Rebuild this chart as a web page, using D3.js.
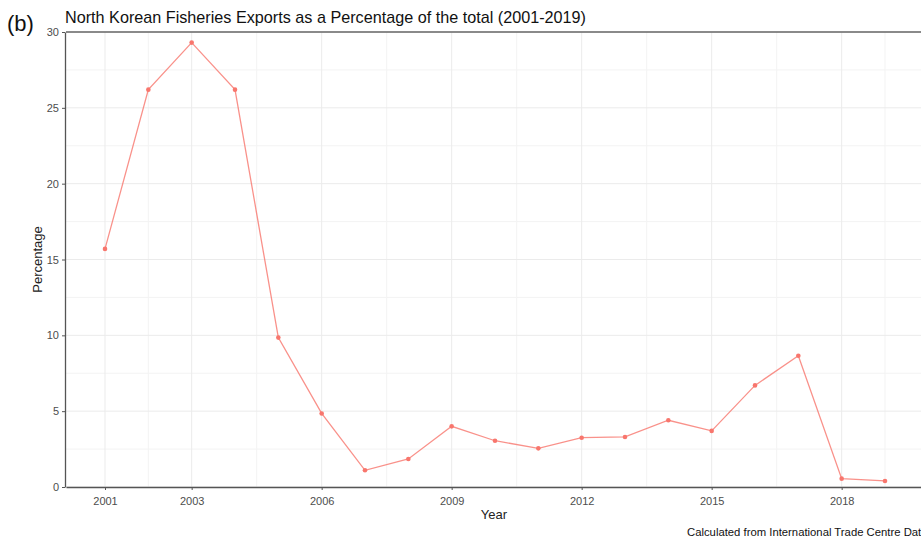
<!DOCTYPE html>
<html lang="en">
  <head>
    <meta charset="utf-8">
    <title>North Korean Fisheries Exports</title>
    <style>
      body { margin: 0; background: #fff; }
      svg { display: block; font-family: "Liberation Sans", Arial, sans-serif; }
      .grid line { stroke: #ebebeb; }
      .grid .minor { stroke: #f3f3f3; }
      .axis text { fill: #4d4d4d; font-size: 11px; }
      .axis path, .axis line { stroke: #555; }
    </style>
  </head>
  <body>
    <div id="container"></div>
    <script src="https://cdnjs.cloudflare.com/ajax/libs/d3/7.8.5/d3.min.js"></script>
    <script type="text/javascript">
      var years = [2001, 2002, 2003, 2004, 2005, 2006, 2007, 2008, 2009, 2010,
                   2011, 2012, 2013, 2014, 2015, 2016, 2017, 2018, 2019];
      var percentage = [15.7, 26.2, 29.3, 26.2, 9.85, 4.85, 1.1, 1.85, 4.0, 3.05,
                        2.55, 3.25, 3.3, 4.4, 3.7, 6.7, 8.65, 0.55, 0.4];
      var xTicks = [2001, 2003, 2006, 2009, 2012, 2015, 2018];
      var xMinor = [2002, 2004.5, 2007.5, 2010.5, 2013.5, 2016.5, 2019];
      var yTicks = [0, 5, 10, 15, 20, 25, 30];
      var yMinor = [2.5, 7.5, 12.5, 17.5, 22.5, 27.5];

      var width = 921, height = 538;
      var margin = {top: 32, right: -3, bottom: 51, left: 66};
      var plotTop = margin.top, plotBottom = height - margin.bottom;

      var svg = d3.select("#container")
        .append("svg")
          .attr("width", width)
          .attr("height", height);

      var x = d3.scaleLinear()
          .domain([2000.1, 2019.9])
          .range([margin.left, width - margin.right]);

      var y = d3.scaleLinear()
          .domain([0, 30])
          .range([plotBottom, plotTop]);

      // grid
      var grid = svg.append("g").attr("class", "grid");
      grid.selectAll(".minor.h").data(yMinor).enter().append("line")
          .attr("class", "minor h")
          .attr("x1", margin.left).attr("x2", width)
          .attr("y1", function(d) { return y(d); })
          .attr("y2", function(d) { return y(d); });
      grid.selectAll(".minor.v").data(xMinor).enter().append("line")
          .attr("class", "minor v")
          .attr("y1", plotTop).attr("y2", plotBottom)
          .attr("x1", function(d) { return x(d); })
          .attr("x2", function(d) { return x(d); });
      grid.selectAll(".major.h").data(yTicks).enter().append("line")
          .attr("class", "major h")
          .attr("x1", margin.left).attr("x2", width)
          .attr("y1", function(d) { return y(d); })
          .attr("y2", function(d) { return y(d); });
      grid.selectAll(".major.v").data(xTicks).enter().append("line")
          .attr("class", "major v")
          .attr("y1", plotTop).attr("y2", plotBottom)
          .attr("x1", function(d) { return x(d); })
          .attr("x2", function(d) { return x(d); });

      // top border
      svg.append("line")
          .attr("x1", margin.left).attr("x2", width)
          .attr("y1", plotTop).attr("y2", plotTop)
          .attr("stroke", "#666").attr("stroke-width", 1.3);

      // axes
      var xAxis = svg.append("g")
          .attr("class", "axis")
          .attr("transform", "translate(0," + plotBottom + ")")
          .call(d3.axisBottom(x).tickValues(xTicks).tickFormat(d3.format("d")).tickSize(3).tickSizeOuter(0));
      xAxis.select(".domain").attr("stroke-width", 1.3);
      xAxis.selectAll("text").attr("dy", "1.05em");

      var yAxis = svg.append("g")
          .attr("class", "axis")
          .attr("transform", "translate(" + (margin.left - 1) + ",0)")
          .call(d3.axisLeft(y).tickValues(yTicks).tickSize(3).tickSizeOuter(0));
      yAxis.select(".domain").attr("stroke-width", 1.3);
      yAxis.selectAll("text").attr("x", -6);

      // series
      var data = years.map(function(yr, i) { return {year: yr, value: percentage[i]}; });
      var line = d3.line()
          .x(function(d) { return x(d.year); })
          .y(function(d) { return y(d.value); });

      svg.append("path")
          .datum(data)
          .attr("fill", "none")
          .attr("stroke", "#F8766D")
          .attr("stroke-opacity", 0.8)
          .attr("stroke-width", 1.3)
          .attr("d", line);

      svg.selectAll(".pt").data(data).enter().append("circle")
          .attr("class", "pt")
          .attr("cx", function(d) { return x(d.year); })
          .attr("cy", function(d) { return y(d.value); })
          .attr("r", 2.3)
          .attr("fill", "#F8766D");

      // texts
      svg.append("text")
          .attr("x", 7).attr("y", 31)
          .attr("font-size", 22)
          .attr("fill", "#111")
          .text("(b)");

      svg.append("text")
          .attr("x", 65).attr("y", 23)
          .attr("font-size", 16.2)
          .attr("fill", "#111")
          .text("North Korean Fisheries Exports as a Percentage of the total (2001-2019)");

      svg.append("text")
          .attr("transform", "translate(42," + ((plotTop + plotBottom) / 2) + ") rotate(-90)")
          .attr("text-anchor", "middle")
          .attr("font-size", 13)
          .attr("fill", "#222")
          .text("Percentage");

      svg.append("text")
          .attr("x", 494).attr("y", 519)
          .attr("text-anchor", "middle")
          .attr("font-size", 13)
          .attr("fill", "#222")
          .text("Year");

      svg.append("text")
          .attr("x", 687).attr("y", 536)
          .attr("font-size", 11.3)
          .attr("fill", "#111")
          .text("Calculated from International Trade Centre Data");
    </script>
  </body>
</html>
